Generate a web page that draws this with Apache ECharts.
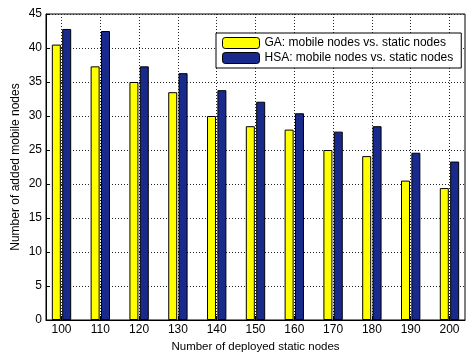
<!DOCTYPE html>
<html>
<head>
<meta charset="utf-8">
<script src="https://cdn.jsdelivr.net/npm/echarts@6/dist/echarts.min.js"></script>
<style>
  html, body { margin: 0; padding: 0; background: #fff; }
  #chart { width: 466px; height: 354px; }
</style>
</head>
<body>
<div id="chart"></div>
<script>
// Number of deployed static nodes (x categories)
const staticNodes = [100, 110, 120, 130, 140, 150, 160, 170, 180, 190, 200];
// Mobile nodes added by each algorithm
const gaMobile  = [40.5, 37.3, 35.0, 33.5, 30.0, 28.5, 28.0, 25.0, 24.1, 20.5, 19.4];
const hsaMobile = [42.8, 42.5, 37.3, 36.3, 33.8, 32.1, 30.4, 27.7, 28.5, 24.6, 23.3];
const yTicks = [0, 5, 10, 15, 20, 25, 30, 35, 40, 45];

const FONT = 'Liberation Sans, Arial, sans-serif';
const pairs = vals => staticNodes.map((x, i) => [x, vals[i]]);

const chart = echarts.init(document.getElementById('chart'), null, { renderer: 'canvas' });
chart.setOption({
  animation: false,
  backgroundColor: '#fff',
  textStyle: { fontFamily: FONT },
  grid: {
    left: 46, top: 14, right: 1, bottom: 34,
    outerBoundsMode: 'none',
    containLabel: false,
    show: true, borderColor: '#000', borderWidth: 1, backgroundColor: '#fff'
  },
  legend: {
    orient: 'vertical',
    left: 216, top: 33,
    padding: [4, 8, 4, 6],
    itemWidth: 37, itemHeight: 11, itemGap: 3,
    backgroundColor: '#fff',
    borderColor: '#000', borderWidth: 1,
    textStyle: { fontFamily: FONT, fontSize: 12, color: '#000' },
    itemStyle: { borderColor: '#000', borderWidth: 1 },
    data: ['GA: mobile nodes vs. static nodes', 'HSA: mobile nodes vs. static nodes']
  },
  xAxis: {
    type: 'value',
    min: 96, max: 204,
    name: 'Number of deployed static nodes',
    nameLocation: 'middle', nameGap: 21,
    nameMoveOverlap: false,
    nameTextStyle: { fontFamily: FONT, fontSize: 11.5, color: '#000' },
    axisLine: { show: true, lineStyle: { color: '#000', width: 1 } },
    axisTick: { show: true, inside: true, length: 4, customValues: staticNodes, lineStyle: { color: '#000' } },
    axisLabel: { customValues: staticNodes, margin: 4, fontFamily: FONT, fontSize: 12, color: '#000' },
    splitLine: { show: true, lineStyle: { color: '#222', type: [1, 2], width: 1 } }
  },
  yAxis: {
    type: 'value',
    min: 0, max: 45, interval: 5,
    name: 'Number of added mobile nodes',
    nameLocation: 'middle', nameGap: 24,
    nameMoveOverlap: false,
    nameTextStyle: { fontFamily: FONT, fontSize: 12, color: '#000' },
    axisLine: { show: true, lineStyle: { color: '#000', width: 1 } },
    axisTick: { show: true, inside: true, length: 4, lineStyle: { color: '#000' } },
    axisLabel: { margin: 4, fontFamily: FONT, fontSize: 12, color: '#000',
                 formatter: v => (yTicks.includes(v) ? String(v) : '') },
    splitLine: { show: true, lineStyle: { color: '#222', type: [1, 2], width: 1 } }
  },
  series: [
    {
      name: 'GA: mobile nodes vs. static nodes',
      type: 'bar',
      data: pairs(gaMobile),
      barWidth: 9,
      barGap: '15%',
      itemStyle: { color: '#ffff00', borderColor: '#000', borderWidth: 1 }
    },
    {
      name: 'HSA: mobile nodes vs. static nodes',
      type: 'bar',
      data: pairs(hsaMobile),
      barWidth: 9,
      barGap: '15%',
      itemStyle: { color: '#182a8c', borderColor: '#000', borderWidth: 1 }
    }
  ]
});
</script>
</body>
</html>
